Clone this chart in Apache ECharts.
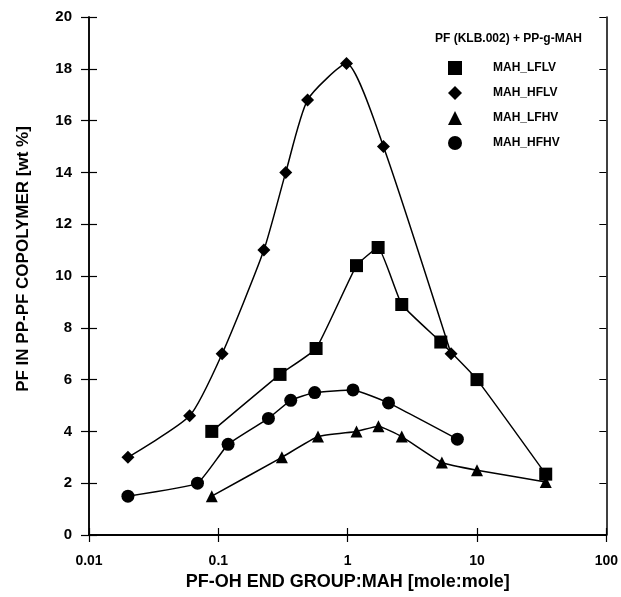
<!DOCTYPE html>
<html>
<head>
<meta charset="utf-8">
<script src="https://cdn.jsdelivr.net/npm/echarts@6/dist/echarts.min.js"></script>
<style>
  html, body { margin: 0; padding: 0; background: #fff; }
  #main { width: 621px; height: 597px; }
</style>
</head>
<body>
<div id="main"></div>
<script>
// values
const lflvX = [0.089, 0.30, 0.57, 1.17, 1.72, 2.62, 5.25, 10.0, 34];
const lflvY = [4.0, 6.2, 7.2, 10.4, 11.1, 8.9, 7.45, 6.0, 2.35];

const hflvX = [0.02, 0.06, 0.107, 0.225, 0.332, 0.49, 0.98, 1.89, 6.3];
const hflvY = [3.0, 4.6, 7.0, 11.0, 14.0, 16.8, 18.2, 15.0, 7.0];

const lfhvX = [0.089, 0.31, 0.59, 1.17, 1.73, 2.62, 5.35, 10.0, 34];
const lfhvY = [1.5, 3.0, 3.8, 4.0, 4.2, 3.8, 2.8, 2.5, 2.05];

const hfhvX = [0.02, 0.069, 0.119, 0.244, 0.363, 0.556, 1.10, 2.07, 7.05];
const hfhvY = [1.5, 2.0, 3.5, 4.5, 5.2, 5.5, 5.6, 5.1, 3.7];

const seriesNames = ['MAH_LFLV', 'MAH_HFLV', 'MAH_LFHV', 'MAH_HFHV'];

function pairs(xs, ys) {
  return xs.map((x, i) => [x, ys[i]]);
}

var chartDom = document.getElementById('main');
var myChart = echarts.init(chartDom);
var option;

const font = 'Liberation Sans, Arial, sans-serif';
const black = '#000';

const xBase = {
  type: 'log',
  logBase: 10,
  min: 0.01,
  max: 100,
  splitLine: { show: false },
  axisLine: { show: true, lineStyle: { color: black, width: 1.5 } }
};
const yBase = {
  type: 'value',
  min: 0,
  max: 20,
  interval: 2,
  splitLine: { show: false },
  axisLine: { show: true, lineStyle: { color: black, width: 1.5 } }
};

option = {
  animation: false,
  backgroundColor: '#fff',
  textStyle: { fontFamily: font },
  grid: { left: 89, right: 14, top: 17, bottom: 62 },
  title: {
    text: 'PF (KLB.002) + PP-g-MAH',
    left: 430,
    top: 28,
    textStyle: { fontFamily: font, fontSize: 12, fontWeight: 'bold', color: black }
  },
  legend: {
    orient: 'vertical',
    left: 443,
    top: 56,
    itemWidth: 14,
    itemHeight: 14,
    itemGap: 11,
    textStyle: { fontFamily: font, fontSize: 12, fontWeight: 'bold', color: black, padding: [0, 0, 0, 26] },
    data: [
      { name: seriesNames[0], icon: 'rect' },
      { name: seriesNames[1], icon: 'diamond' },
      { name: seriesNames[2], icon: 'triangle' },
      { name: seriesNames[3], icon: 'circle' }
    ]
  },
  xAxis: [
    Object.assign({}, xBase, {
      position: 'bottom',
      name: 'PF-OH END GROUP:MAH [mole:mole]',
      nameLocation: 'middle',
      nameGap: 36,
      nameTextStyle: { fontFamily: font, fontSize: 18, fontWeight: 'bold', color: black },
      axisTick: { show: true, inside: false, length: 7, lineStyle: { color: black, width: 1.2 } },
      axisLabel: { fontFamily: font, fontSize: 14, fontWeight: 'bold', color: black, margin: 19 }
    }),
    Object.assign({}, xBase, {
      position: 'bottom',
      axisTick: { show: true, inside: true, length: 7, lineStyle: { color: black, width: 1.2 } },
      axisLabel: { show: false }
    }),
    Object.assign({}, xBase, {
      position: 'top',
      axisTick: { show: true, inside: true, length: 7, lineStyle: { color: black, width: 1 } },
      axisLabel: { show: false }
    })
  ],
  yAxis: [
    Object.assign({}, yBase, {
      position: 'left',
      name: 'PF IN PP-PF COPOLYMER [wt %]',
      nameLocation: 'middle',
      nameGap: 57,
      nameTextStyle: { fontFamily: font, fontSize: 17, fontWeight: 'bold', color: black, padding: [0, 0, 0, 34] },
      axisTick: { show: true, inside: false, length: 8, lineStyle: { color: black, width: 1.2 } },
      axisLabel: { fontFamily: font, fontSize: 15, fontWeight: 'bold', color: black, margin: 17 }
    }),
    Object.assign({}, yBase, {
      position: 'left',
      axisTick: { show: true, inside: true, length: 8, lineStyle: { color: black, width: 1.2 } },
      axisLabel: { show: false }
    }),
    Object.assign({}, yBase, {
      position: 'right',
      axisTick: { show: true, inside: true, length: 7, lineStyle: { color: black, width: 1 } },
      axisLabel: { show: false }
    })
  ],
  series: [
    {
      name: seriesNames[0],
      type: 'line',
      data: pairs(lflvX, lflvY),
      symbol: 'rect',
      symbolSize: 13,
      smooth: 0.12,
      itemStyle: { color: black },
      lineStyle: { color: black, width: 1.5 }
    },
    {
      name: seriesNames[1],
      type: 'line',
      data: pairs(hflvX, hflvY),
      symbol: 'diamond',
      symbolSize: 13,
      smooth: 0.2,
      itemStyle: { color: black },
      lineStyle: { color: black, width: 1.5 }
    },
    {
      name: seriesNames[2],
      type: 'line',
      data: pairs(lfhvX, lfhvY),
      symbol: 'triangle',
      symbolSize: 12,
      smooth: 0.12,
      itemStyle: { color: black },
      lineStyle: { color: black, width: 1.5 }
    },
    {
      name: seriesNames[3],
      type: 'line',
      data: pairs(hfhvX, hfhvY),
      symbol: 'circle',
      symbolSize: 13,
      smooth: 0.12,
      itemStyle: { color: black },
      lineStyle: { color: black, width: 1.5 }
    }
  ]
};

option && myChart.setOption(option);
</script>
</body>
</html>
